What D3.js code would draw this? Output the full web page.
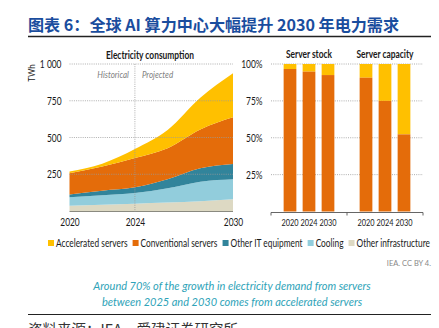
<!DOCTYPE html>
<html><head><meta charset="utf-8">
<script src="https://cdn.jsdelivr.net/npm/d3@7"></script>
<style>
body{margin:0;background:#fff;}
svg{display:block;}
</style></head>
<body><svg id="c" width="439" height="328"></svg>
<script>
// ---- Data ----
const years = [2020, 2022, 2024, 2026, 2028, 2030];
const otherInfrastructure = [36, 42, 50, 57, 66, 80];
const cooling = [57, 65, 72, 97, 133, 136];
const otherIT = [20, 31, 39, 62, 91, 104];
const conventionalServers = [144, 164, 199, 211, 265, 317];
const acceleratedServers = [11, 20, 62, 124, 215, 300];
const yTicks = [250, 500, 750, 1000];
const yTickLabels = ["250", "500", "750", "1 000"];
const xTicks = [2020, 2024, 2030];

const barYears = ["2020", "2024", "2030"];
const stockConventional = [0.966, 0.948, 0.925];
const capacityConventional = [0.907, 0.75, 0.523];
const pctTicks = [0.25, 0.5, 0.75, 1];
const pctLabels = ["25%", "50%", "75%", "100%"];

const seriesNames = ["Accelerated servers", "Conventional servers", "Other IT equipment", "Cooling", "Other infrastructure"];
const colors = {"Accelerated servers":"#FFC000","Conventional servers":"#E46C0A","Other IT equipment":"#31849B","Cooling":"#92CDDC","Other infrastructure":"#DDD9C3"};

const titleText = "图表 6：全球 AI 算力中心大幅提升 2030 年电力需求";
const captionLines = ["Around 70% of the growth in electricity demand from servers", "between 2025 and 2030 comes from accelerated servers"];
const sourceText = "资料来源：IEA，爱建证券研究所";

// ---- Drawing ----
const svg = d3.select("#c");
const FONT = "Lato,'Open Sans',sans-serif";
const CJK = "'Noto Sans CJK SC','Noto Sans',sans-serif";
const F = 0.8; // horizontal condensing (reference uses a narrow font)
function condense(sel){
  sel.each(function(){
    const xv = +(this.getAttribute("x") || 0), yv = +(this.getAttribute("y") || 0);
    const tr = this.getAttribute("transform") || "";
    this.setAttribute("x", 0); this.setAttribute("y", 0);
    this.removeAttribute("dy");
    this.setAttribute("transform", `${tr} translate(${xv},${yv}) scale(${F},1)`);
  });
  return sel;
}

svg.append("text").attr("x", 28).attr("y", 31).attr("font-family", CJK).attr("font-weight", 700)
  .attr("font-size", 16.1).attr("fill", "#1a4d9e").text(titleText);
svg.append("line").attr("x1", 28).attr("x2", 431).attr("y1", 36.5).attr("y2", 36.5).attr("stroke", "#222").attr("stroke-width", 1.3);

// Left chart
const x = d3.scaleLinear().domain([2020, 2030]).range([69.5, 233]);
const y = d3.scaleLinear().domain([0, 1000]).range([211, 64]);

const rows = years.map((yr, i) => ({
  year: yr,
  "Other infrastructure": otherInfrastructure[i],
  "Cooling": cooling[i],
  "Other IT equipment": otherIT[i],
  "Conventional servers": conventionalServers[i],
  "Accelerated servers": acceleratedServers[i]
}));
const stackKeys = seriesNames.slice().reverse();
const stacked = d3.stack().keys(stackKeys)(rows);
const area = d3.area().curve(d3.curveMonotoneX)
  .x(d => x(d.data.year)).y0(d => y(d[0])).y1(d => y(d[1]));

const gL = svg.append("g");
gL.selectAll("path.area").data(stacked).join("path").attr("class", "area")
  .attr("d", area).attr("fill", d => colors[d.key]);

gL.selectAll("line.grid").data(yTicks).join("line").attr("class", "grid")
  .attr("x1", x(2020)).attr("x2", x(2030)).attr("y1", d => y(d)).attr("y2", d => y(d))
  .attr("stroke", "#9a9a9a").attr("stroke-width", 0.8).attr("stroke-dasharray", "1,1.2");
gL.append("line").attr("x1", x(2020)).attr("x2", x(2030)).attr("y1", y(0) + 0.5).attr("y2", y(0) + 0.5)
  .attr("stroke", "#8a8a80").attr("stroke-width", 1);
gL.append("line").attr("x1", x(2024)).attr("x2", x(2024)).attr("y1", y(1000)).attr("y2", y(0) + 1)
  .attr("stroke", "#9a9a9a").attr("stroke-width", 0.8).attr("stroke-dasharray", "1,1.2");

const yAxis = d3.axisLeft(y).tickValues(yTicks).tickSize(0).tickPadding(0)
  .tickFormat((d, i) => yTickLabels[i]);
const yAxG = gL.append("g").attr("transform", "translate(61.5,3.6)").call(yAxis);
yAxG.select(".domain").remove();
condense(yAxG.selectAll("text").attr("font-family", FONT).attr("font-size", 10.5).attr("fill", "#1a1a1a"));

const xAxis = d3.axisBottom(x).tickValues(xTicks).tickSize(0).tickPadding(0).tickFormat(d3.format("d"));
const xAxG = gL.append("g").attr("transform", "translate(0,226)").call(xAxis);
xAxG.select(".domain").remove();
condense(xAxG.selectAll("text").attr("font-family", FONT).attr("font-size", 10.5).attr("fill", "#1a1a1a"));

condense(gL.append("text").attr("transform", "translate(35,73) rotate(-90)").attr("text-anchor", "middle")
  .attr("font-family", FONT).attr("font-size", 10).attr("fill", "#1a1a1a").text("TWh"));
condense(gL.append("text").attr("x", 150).attr("y", 58.5).attr("text-anchor", "middle").attr("font-family", FONT)
  .attr("font-weight", 700).attr("font-size", 10.5).attr("fill", "#1a1a1a").text("Electricity consumption"));
condense(gL.append("text").attr("x", x(2024) - 6).attr("y", 77.5).attr("text-anchor", "end").attr("font-family", FONT)
  .attr("font-style", "italic").attr("font-size", 10).attr("fill", "#808080").text("Historical"));
condense(gL.append("text").attr("x", x(2024) + 7).attr("y", 77.5).attr("text-anchor", "start").attr("font-family", FONT)
  .attr("font-style", "italic").attr("font-size", 10).attr("fill", "#808080").text("Projected"));

// Right chart
const yP = d3.scaleLinear().domain([0, 1]).range([211.5, 64]);
const gR = svg.append("g");
gR.selectAll("line.grid").data(pctTicks).join("line").attr("class", "grid")
  .attr("x1", 271).attr("x2", 423).attr("y1", d => yP(d)).attr("y2", d => yP(d))
  .attr("stroke", "#9a9a9a").attr("stroke-width", 0.8).attr("stroke-dasharray", "1,1.2");
const yAxisR = d3.axisLeft(yP).tickValues(pctTicks).tickSize(0).tickPadding(0)
  .tickFormat((d, i) => pctLabels[i]);
const yAxR = gR.append("g").attr("transform", "translate(262.5,3.6)").call(yAxisR);
yAxR.select(".domain").remove();
condense(yAxR.selectAll("text").attr("font-family", FONT).attr("font-size", 10.5).attr("fill", "#1a1a1a"));

const panels = [
  {title: "Server stock", values: stockConventional, x0: 271},
  {title: "Server capacity", values: capacityConventional, x0: 347}
];
panels.forEach(p => {
  const xb = d3.scaleBand().domain(barYears).range([p.x0, p.x0 + 76]).paddingInner(0.33).paddingOuter(0.665);
  const g = gR.append("g");
  g.selectAll("rect.acc").data(barYears).join("rect").attr("class", "acc")
    .attr("x", d => xb(d)).attr("width", xb.bandwidth())
    .attr("y", yP(1)).attr("height", (d, i) => yP(p.values[i]) - yP(1))
    .attr("fill", colors["Accelerated servers"]);
  g.selectAll("rect.conv").data(barYears).join("rect").attr("class", "conv")
    .attr("x", d => xb(d)).attr("width", xb.bandwidth())
    .attr("y", (d, i) => yP(p.values[i])).attr("height", (d, i) => yP(0) - yP(p.values[i]))
    .attr("fill", colors["Conventional servers"]);
  const ax = d3.axisBottom(xb).tickSize(0).tickPadding(0);
  const axG = g.append("g").attr("transform", "translate(0,226)").call(ax);
  axG.select(".domain").remove();
  condense(axG.selectAll("text").attr("font-family", FONT).attr("font-size", 9.2).attr("fill", "#1a1a1a"));
  condense(g.append("text").attr("x", p.x0 + 38).attr("y", 57.5).attr("text-anchor", "middle").attr("font-family", FONT)
    .attr("font-weight", 700).attr("font-size", 10.5).attr("fill", "#1a1a1a").text(p.title));
});
gR.append("path").attr("d", "M271,215.5V212.5H423V215.5M347,212.5V215.5")
  .attr("fill", "none").attr("stroke", "#555").attr("stroke-width", 0.9);

// Legend: condensed to fit span 48..430
const lg = svg.append("g").attr("transform", "translate(48,243)");
const legTexts = seriesNames.map(name => lg.append("text").attr("font-family", FONT)
  .attr("font-size", 10.5).attr("fill", "#1a1a1a").text(name));
const natural = legTexts.map(t => t.node().getComputedTextLength());
const fixedW = seriesNames.length * 8 + (seriesNames.length - 1) * 5;
const fl = (382 - fixedW) / d3.sum(natural);
let lx = 0;
seriesNames.forEach((name, i) => {
  lg.append("rect").attr("x", lx).attr("y", -3).attr("width", 6).attr("height", 6).attr("fill", colors[name]);
  legTexts[i].attr("transform", `translate(${lx + 8},3.6) scale(${fl},1)`);
  lx += 8 + natural[i] * fl + 5;
});

svg.append("text").attr("x", 431).attr("y", 265.5).attr("text-anchor", "end").attr("font-family", FONT)
  .attr("font-size", 7.5).attr("fill", "#888").text("IEA. CC BY 4.");

svg.selectAll("text.cap").data(captionLines).join("text").attr("class", "cap")
  .attr("x", 232).attr("y", (d, i) => 289.5 + i * 16).attr("text-anchor", "middle")
  .attr("font-family", "Lato,'Open Sans',sans-serif").attr("font-style", "italic").attr("font-size", 11)
  .attr("fill", "#2ea3b8").text(d => d);

svg.append("line").attr("x1", 28).attr("x2", 431).attr("y1", 314.5).attr("y2", 314.5).attr("stroke", "#222").attr("stroke-width", 1.1);
svg.append("text").attr("x", 28).attr("y", 335).attr("font-family", CJK).attr("font-size", 14.5)
  .attr("fill", "#333").text(sourceText);
</script></body></html>
